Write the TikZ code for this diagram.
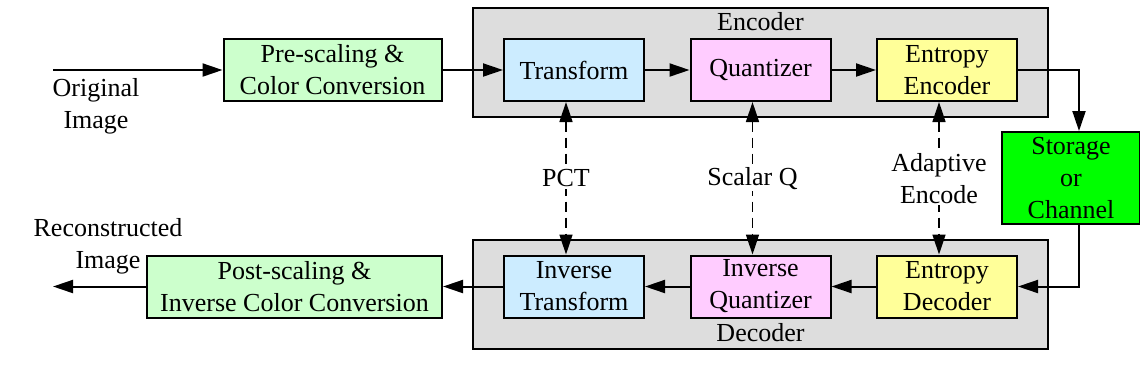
\documentclass[tikz,border=0pt]{standalone}
\usepackage{fontspec}
\setmainfont{Liberation Serif}
\usepackage{xcolor}
\usetikzlibrary{positioning}
\usetikzlibrary{arrows.meta}
\definecolor{grpgray}{HTML}{DDDDDD}
\definecolor{lgreen}{HTML}{CCFFCC}
\definecolor{lblue}{HTML}{CCECFF}
\definecolor{lpink}{HTML}{FFCCFF}
\definecolor{lyellow}{HTML}{FFFF99}
\definecolor{bgreen}{HTML}{00FF00}
\tikzset{blk/.style={draw=black, line width=1pt, minimum width=70pt, minimum height=31pt, align=center, inner sep=0pt}}
\tikzset{grp/.style={draw=black, fill=grpgray, line width=1pt, minimum width=287.5pt, minimum height=54.5pt, inner sep=0pt}}
\tikzset{flow/.style={-{Triangle[length=10pt,width=6.5pt]}, line width=1pt}}
\tikzset{ctrl/.style={{Triangle[length=10pt,width=6.5pt]}-{Triangle[length=10pt,width=6.5pt]}, line width=0.8pt, dash pattern=on 5pt off 3pt}}
\tikzset{lbl/.style={fill=white, align=center, inner sep=1pt}}

\begin{document}
\begin{tikzpicture}[x=0.5pt, y=-0.5pt, node distance=93.25pt, font=\fontsize{13}{16}\selectfont]
		\useasboundingbox (0,0) rectangle (1140,382);
		% encoder / decoder groups
		\node[grp] (enc) at (760.5,62.5) {};
		\node[grp] (dec) at (760.5,294) {};
		\node (enclbl) at (760.5,22) {Encoder};
		\node (declbl) at (760.5,333) {Decoder};
		
		\node[blk, fill=lgreen, minimum width=109pt] (pre) at (332.5,70) {Pre-scaling \&\\Color Conversion};
		\node[blk, fill=lblue] (tr) at (574,70) {Transform};
		\node[blk, fill=lpink] (qu) [right of=tr] {Quantizer};
		\node[blk, fill=lyellow] (ee) [right of=qu] {Entropy\\Encoder};
		\node[blk, fill=bgreen, minimum width=69pt, minimum height=46pt] (st) at (1071,178) {Storage\\or\\Channel};
		
		\node[blk, fill=lblue] (itr) [below of=tr, node distance=108.25pt] {Inverse\\Transform};
		\node[blk, fill=lpink] (iq) [right of=itr] {Inverse\\Quantizer};
		\node[blk, fill=lyellow] (ed) [right of=iq] {Entropy\\Decoder};
		\node[blk, fill=lgreen, minimum width=147.5pt] (post) at (294.5,286.5) {Post-scaling \&\\Inverse Color Conversion};
		
		\node[align=center] (orig) at (96,106) {Original\\Image};
		\node[align=center] (recon) at (108,246) {Reconstructed\\Image};
		\coordinate (src) at (53,70);
		\coordinate (dst) at (53,286.5);
		
		% forward path
		\draw[flow] (src) -- (pre.west);
		\draw[flow] (pre) -- (tr);
		\draw[flow] (tr) -- (qu);
		\draw[flow] (qu) -- (ee);
		\draw[flow] (ee.east) -| ([xshift=4pt]st.north);
		% return path
		\draw[flow] ([xshift=4pt]st.south) |- (ed.east);
		\draw[flow] (ed) -- (iq);
		\draw[flow] (iq) -- (itr);
		\draw[flow] (itr) -- (post);
		\draw[flow] (post.west) -- (dst);
		
		% side information
		\draw[ctrl] ([xshift=-4pt]tr.south) -- node[lbl] {PCT} ([xshift=-4pt]itr.north);
		\draw[ctrl] ([xshift=-4pt]qu.south) -- node[lbl] {Scalar Q} ([xshift=-4pt]iq.north);
		\draw[ctrl] ([xshift=-4pt]ee.south) -- node[lbl] {Adaptive\\Encode} ([xshift=-4pt]ed.north);
	\end{tikzpicture}
\end{document}
